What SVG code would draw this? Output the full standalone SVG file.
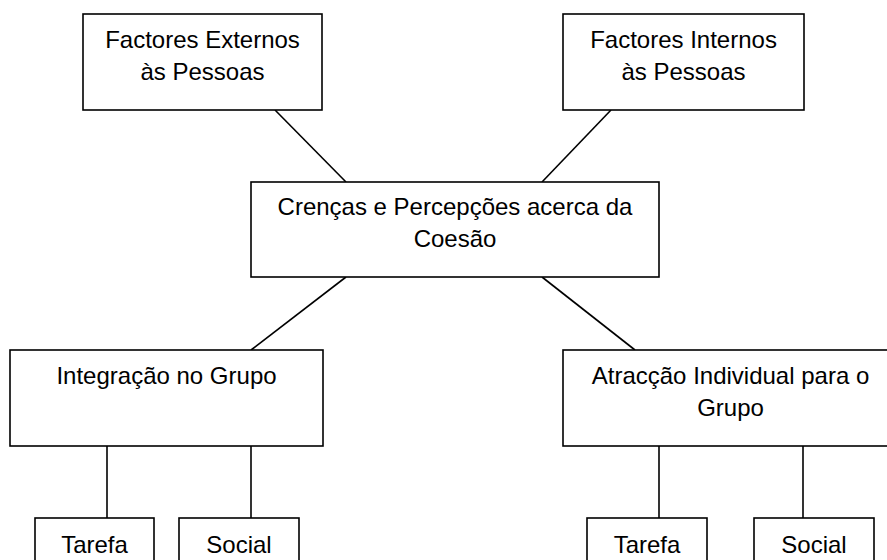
<svg xmlns="http://www.w3.org/2000/svg" width="887" height="560" viewBox="0 0 887 560">
<style>
.box{fill:#fff;stroke:#000;stroke-width:1.6}
.t{font-family:"Liberation Sans",Arial,sans-serif;font-size:24px;fill:#000;text-anchor:middle}
.c{stroke:#000;stroke-width:1.6;fill:none}
</style>
<rect width="887" height="560" fill="#fff"/>
<g id="connectors">
<line class="c" x1="275" y1="110" x2="346" y2="182"/>
<line class="c" x1="611" y1="110" x2="542" y2="182"/>
<line class="c" x1="346" y1="277" x2="251" y2="350"/>
<line class="c" x1="542" y1="277" x2="635" y2="350"/>
<line class="c" x1="107" y1="446" x2="107" y2="518"/>
<line class="c" x1="251" y1="446" x2="251" y2="518"/>
<line class="c" x1="659" y1="446" x2="659" y2="518"/>
<line class="c" x1="803" y1="446" x2="803" y2="518"/>
</g>
<g id="externos">
<rect class="box" x="83" y="14" width="239" height="96"/>
<text class="t" x="202.5" y="47.5">Factores Externos</text>
<text class="t" x="202.5" y="79.5">às Pessoas</text>
</g>
<g id="internos">
<rect class="box" x="563" y="14" width="241" height="96"/>
<text class="t" x="683.5" y="47.5">Factores Internos</text>
<text class="t" x="683.5" y="79.5">às Pessoas</text>
</g>
<g id="crencas">
<rect class="box" x="251" y="182" width="408" height="95"/>
<text class="t" x="455" y="214.5">Crenças e Percepções acerca da</text>
<text class="t" x="455" y="246.5">Coesão</text>
</g>
<g id="integracao">
<rect class="box" x="10" y="350" width="313" height="96"/>
<text class="t" x="166.5" y="383.5">Integração no Grupo</text>
</g>
<g id="atraccao">
<rect class="box" x="563" y="350" width="335" height="96"/>
<text class="t" x="730.5" y="383.5">Atracção Individual para o</text>
<text class="t" x="730.5" y="415.5">Grupo</text>
</g>
<g id="tarefa1">
<rect class="box" x="35" y="518" width="119" height="60"/>
<text class="t" x="94.5" y="552.5">Tarefa</text>
</g>
<g id="social1">
<rect class="box" x="179" y="518" width="120" height="60"/>
<text class="t" x="239" y="552.5">Social</text>
</g>
<g id="tarefa2">
<rect class="box" x="587" y="518" width="120" height="60"/>
<text class="t" x="647" y="552.5">Tarefa</text>
</g>
<g id="social2">
<rect class="box" x="754" y="518" width="120" height="60"/>
<text class="t" x="814" y="552.5">Social</text>
</g>
</svg>
